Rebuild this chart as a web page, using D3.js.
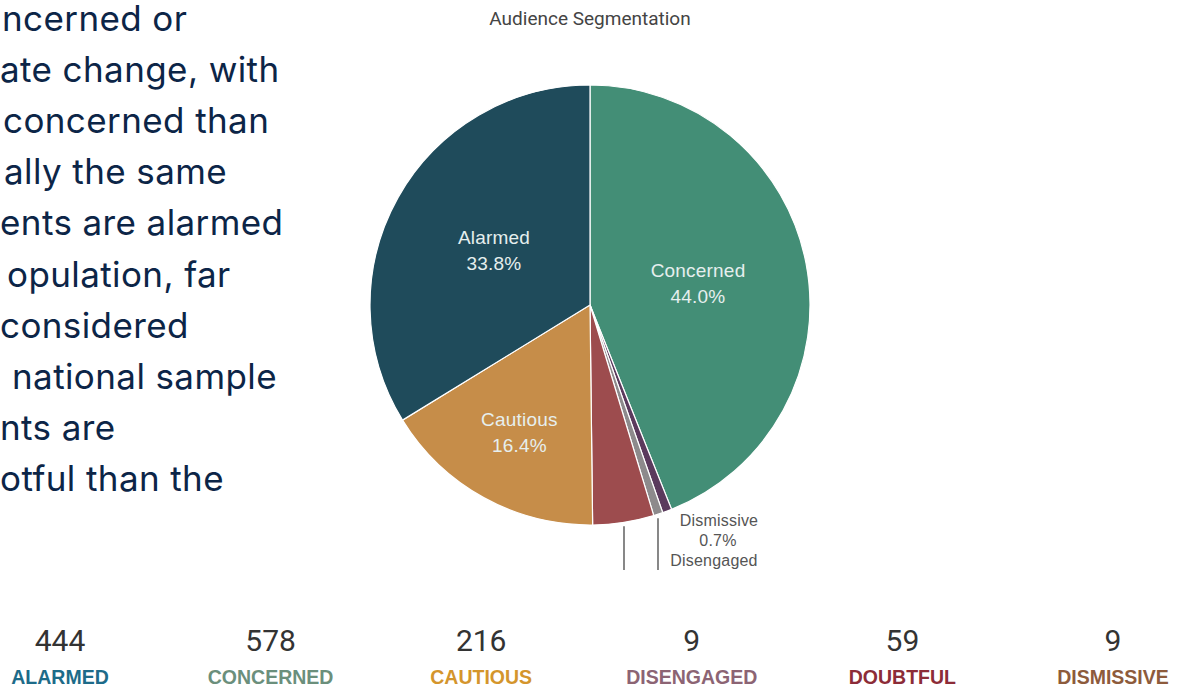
<!DOCTYPE html>
<html>
<head>
<meta charset="utf-8">
<script src="https://cdn.jsdelivr.net/npm/d3@7"></script>
<style>
  html, body { margin: 0; padding: 0; background: #ffffff; overflow: hidden; }
  svg { display: block; }
</style>
</head>
<body>
<svg id="chart" width="1188" height="698"></svg>
<script>
// Audience segments, in pie order (clockwise from 12 o'clock)
const segments = ["Concerned", "Dismissive", "Disengaged", "Doubtful", "Cautious", "Alarmed"];
const counts   = [578, 9, 9, 59, 216, 444];
const sliceColors = ["#438e76", "#5b3a5d", "#8d8a8c", "#9d4c4e", "#c68d49", "#1f4b5b"];

// Summary row beneath the pie
const summaryNames  = ["ALARMED", "CONCERNED", "CAUTIOUS", "DISENGAGED", "DOUBTFUL", "DISMISSIVE"];
const summaryCounts = [444, 578, 216, 9, 59, 9];
const summaryColors = ["#1d6b89", "#6b8f7c", "#d4952c", "#8c6474", "#8c2c38", "#8d5b3c"];

// Body copy beside the chart
const paragraphLines = [
  "ncerned or",
  "ate change, with",
  "concerned than",
  "ally the same",
  "ents are alarmed",
  "opulation, far",
  "considered",
  "national sample",
  "nts are",
  "otful than the"
];
const paragraphIndent = [2, 0, 3, 4, 0, 7, 0, 12, 0, 0];

const svg = d3.select("#chart");

// ---- paragraph text ----
const para = svg.append("g");
para.selectAll("text")
  .data(paragraphLines)
  .join("text")
  .attr("x", (d, i) => paragraphIndent[i])
  .attr("y", (d, i) => 31 + i * 51.1)
  .attr("font-family", "Inter, 'Noto Sans', sans-serif")
  .attr("font-size", 35)
  .attr("letter-spacing", 0.4)
  .attr("fill", "#0c2547")
  .text(d => d);

// ---- title ----
svg.append("text")
  .attr("x", 590).attr("y", 25)
  .attr("text-anchor", "middle")
  .attr("font-family", "Roboto, sans-serif")
  .attr("font-size", 19)
  .attr("fill", "#444")
  .text("Audience Segmentation");

// ---- pie ----
const cx = 590, cy = 305, radius = 220;
const total = d3.sum(counts);
const data = segments.map((s, i) => ({ name: s, value: counts[i], color: sliceColors[i] }));

const pie = d3.pie().value(d => d.value).sort(null);
const arcs = pie(data);
const arc = d3.arc().innerRadius(0).outerRadius(radius);

const g = svg.append("g").attr("transform", `translate(${cx},${cy})`);
g.selectAll("path")
  .data(arcs)
  .join("path")
  .attr("d", arc)
  .attr("fill", d => d.data.color)
  .attr("stroke", "#ffffff")
  .attr("stroke-width", 1.2);

const fmt = v => (v / total * 100).toFixed(1) + "%";

// Inside labels for the three large slices (radial position as a share of the radius)
const inside = { "Concerned": 0.50, "Alarmed": 0.50, "Cautious": 0.665 };
const inLabels = arcs.filter(d => inside[d.data.name] !== undefined);
const lblArc = d => d3.arc().innerRadius(radius * inside[d.data.name]).outerRadius(radius * inside[d.data.name]);
const lg = g.selectAll("g.lbl").data(inLabels).join("g").attr("class", "lbl")
  .attr("transform", d => `translate(${lblArc(d).centroid(d)})`);
lg.append("text")
  .attr("text-anchor", "middle")
  .attr("y", -7)
  .attr("font-family", "'Liberation Sans', Arial, sans-serif")
  .attr("font-size", 19)
  .attr("letter-spacing", 0.2)
  .attr("fill", "#e6efee")
  .text(d => d.data.name);
lg.append("text")
  .attr("text-anchor", "middle")
  .attr("y", 19)
  .attr("font-family", "'Liberation Sans', Arial, sans-serif")
  .attr("font-size", 19)
  .attr("letter-spacing", 0.2)
  .attr("fill", "#e6efee")
  .text(d => fmt(d.data.value));

// Leader lines for the thin slices, dropping straight down from the rim
const leaderFor = ["Doubtful", "Disengaged"];
const leaderX = { "Doubtful": 34, "Disengaged": 68 };
const rimY = x => Math.sqrt(radius * radius - x * x);
g.selectAll("line.leader")
  .data(arcs.filter(d => leaderFor.includes(d.data.name)))
  .join("line")
  .attr("class", "leader")
  .attr("x1", d => leaderX[d.data.name])
  .attr("x2", d => leaderX[d.data.name])
  .attr("y1", d => rimY(leaderX[d.data.name]) + 4)
  .attr("y2", 265)
  .attr("stroke", "#555")
  .attr("stroke-width", 1.4);

// Small-slice annotation
const dismissive = arcs.find(d => d.data.name === "Dismissive");
const noteLines = ["Dismissive", fmt(dismissive.data.value), "Disengaged"];
const noteX = [129, 128, 124];
g.selectAll("text.note")
  .data(noteLines)
  .join("text")
  .attr("class", "note")
  .attr("x", (d, i) => noteX[i])
  .attr("y", (d, i) => 221 + i * 20)
  .attr("text-anchor", "middle")
  .attr("font-family", "'Liberation Sans', Arial, sans-serif")
  .attr("font-size", 16)
  .attr("letter-spacing", 0.2)
  .attr("fill", "#555")
  .text(d => d);

// ---- summary row ----
const summaryX = d3.scalePoint().domain(summaryNames).range([60, 1113]);
const sg = svg.append("g");
sg.selectAll("text.count")
  .data(summaryNames)
  .join("text")
  .attr("class", "count")
  .attr("x", d => summaryX(d))
  .attr("y", 651)
  .attr("text-anchor", "middle")
  .attr("font-family", "Roboto, sans-serif")
  .attr("font-size", 30)
  .attr("fill", "#333")
  .text((d, i) => summaryCounts[i]);
sg.selectAll("text.name")
  .data(summaryNames)
  .join("text")
  .attr("class", "name")
  .attr("x", d => summaryX(d))
  .attr("y", 684)
  .attr("text-anchor", "middle")
  .attr("font-family", "'Liberation Sans', Arial, sans-serif")
  .attr("font-weight", "bold")
  .attr("font-size", 19.5)
  .attr("fill", (d, i) => summaryColors[i])
  .text(d => d);
</script>
</body>
</html>
